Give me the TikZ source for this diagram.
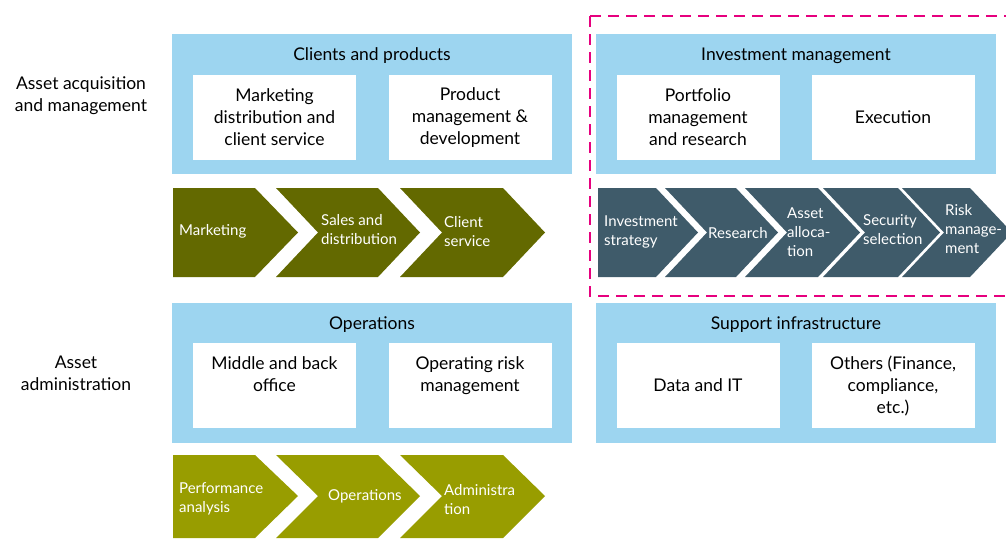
\documentclass[tikz,border=0pt]{standalone}
\usepackage{fontspec}
\setmainfont{Lato}
\usetikzlibrary{positioning}
\definecolor{panelblue}{HTML}{9DD5F0}
\definecolor{darkolive}{HTML}{636900}
\definecolor{lightolive}{HTML}{989D00}
\definecolor{slate}{HTML}{3F5B6A}
\definecolor{dashpink}{HTML}{E6007E}
\tikzset{
panel/.style={fill=panelblue,minimum width=400pt,minimum height=140pt,inner sep=0pt},
whitebox/.style={fill=white,minimum width=163pt,minimum height=85pt,inner sep=0pt,align=center},
title/.style={inner sep=0pt},
steptext/.style={anchor=west,align=left,text=white,inner sep=0pt,font=\fontsize{15}{19}\selectfont},
sidetext/.style={align=center,inner sep=0pt},
focus/.style={dashpink,line width=2.5pt,dash pattern=on 11pt off 7pt},
}
\tikzstyle{every node}=[font=\fontsize{17.5}{22}\selectfont]

\begin{document}
\begin{tikzpicture}[x=1pt,y=-1pt]
        \useasboundingbox (0,0) rectangle (1006,538);

        % panels
        \node[panel] (clients) at (372,103.5) {};
        \node[panel] (invest) at (796,103.5) {};
        \node[panel] (ops) at (372,372.5) {};
        \node[panel] (support) at (796,372.5) {};
        \node[title,below=14pt of clients.north] (clientsT) {Clients and products};
        \node[title,below=14pt of invest.north] (investT) {Investment management};
        \node[title,below=14pt of ops.north] (opsT) {Operations};
        \node[title,below=14pt of support.north] (supportT) {Support infrastructure};

        % white boxes
        \node[whitebox] (mktg) at (274.5,117.5) {Marketing\\distribution and\\client service};
        \node[whitebox] (prod) at (470,117.5) {Product\\management \&\\development};
        \node[whitebox] (portf) at (698,117.5) {Portfolio\\management\\and research};
        \node[whitebox] (exec) at (893,117.5) {Execution};
        \node[whitebox] (backoff) at (274.5,385.5) {Middle and back\\office\\[0pt]};
        \node[whitebox] (oprisk) at (470,385.5) {Operating risk\\management\\[0pt]};
        \node[whitebox] (datait) at (698,385.5) {Data and IT};
        \node[whitebox] (others) at (893,385.5) {Others (Finance,\\compliance,\\etc.)};

        % side labels
        \node[sidetext] (acq) at (81,96) {Asset acquisition\\and management};
        \node[sidetext] (admin) at (76,373) {Asset\\administration};

        % front office chain
        \fill[darkolive] (173,188) -- (255,188) -- (298,232.5) -- (255,277) -- (173,277) -- cycle;
        \fill[darkolive] (276,188) -- (378,188) -- (420,232.5) -- (378,277) -- (276,277) -- (318,232.5) -- cycle;
        \fill[darkolive] (400,188) -- (503,188) -- (545,232.5) -- (503,277) -- (400,277) -- (442,232.5) -- cycle;
        \node[steptext] (s1) at (179,231) {Marketing};
        \node[steptext] (s2) at (321,230) {Sales and\\distribution};
        \node[steptext] (s3) at (444,232) {Client\\service};

        % investment chain
        \fill[slate] (598,188) -- (656,188) -- (698,232.5) -- (656,277) -- (598,277) -- cycle;
        \fill[slate] (665,188) -- (736,188) -- (778,232.5) -- (736,277) -- (665,277) -- (707,232.5) -- cycle;
        \fill[slate] (745,188) -- (818,188) -- (860,232.5) -- (818,277) -- (745,277) -- (787,232.5) -- cycle;
        \fill[slate] (823,188) -- (898,188) -- (940,232.5) -- (898,277) -- (823,277) -- (865,232.5) -- cycle;
        \fill[slate] (902,188) -- (970,188) -- (1012,232.5) -- (970,277) -- (902,277) -- (944,232.5) -- cycle;
        \node[steptext] (i1) at (604,232) {Investment\\strategy};
        \node[steptext] (i2) at (708,233) {Research};
        \node[steptext] (i3) at (787,232) {Asset\\alloca-\\tion};
        \node[steptext] (i4) at (863,230) {Security\\selection};
        \node[steptext] (i5) at (945,229) {Risk\\manage-\\ment};

        % back office chain
        \fill[lightolive] (173,455) -- (255,455) -- (298,496) -- (255,538) -- (173,538) -- cycle;
        \fill[lightolive] (276,455) -- (378,455) -- (420,496) -- (378,538) -- (276,538) -- (318,496) -- cycle;
        \fill[lightolive] (400,455) -- (503,455) -- (545,496) -- (503,538) -- (400,538) -- (442,496) -- cycle;
        \node[steptext] (b1) at (179,499) {Performance\\analysis};
        \node[steptext] (b2) at (328,496) {Operations};
        \node[steptext] (b3) at (444,500) {Administra\\tion};

        % focus frame
        \draw[focus] (590,16) -- (1010,16) (590,16) -- (590,296) -- (1010,296);
    \end{tikzpicture}
\end{document}
